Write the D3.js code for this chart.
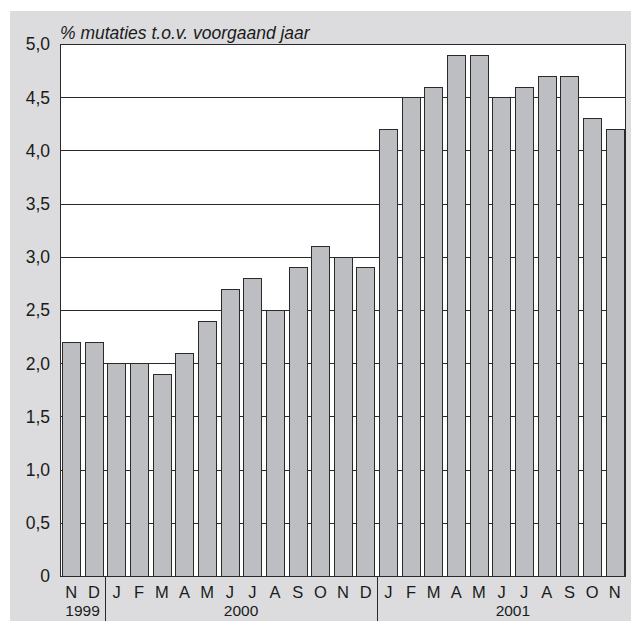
<!DOCTYPE html>
<html>
<head>
<meta charset="utf-8">
<script src="https://cdn.jsdelivr.net/npm/d3@7"></script>
<style>
  body { margin: 0; background: #fff; }
  text { font-family: "Liberation Sans", Arial, sans-serif; fill: #1a1a1a; }
</style>
</head>
<body>
<script>
"use strict";

// month letters, year of each bar, and % change vs previous year
const months = ["N","D","J","F","M","A","M","J","J","A","S","O","N","D","J","F","M","A","M","J","J","A","S","O","N"];
const years  = [1999,1999,2000,2000,2000,2000,2000,2000,2000,2000,2000,2000,2000,2000,2001,2001,2001,2001,2001,2001,2001,2001,2001,2001,2001];
const values = [2.2,2.2,2.0,2.0,1.9,2.1,2.4,2.7,2.8,2.5,2.9,3.1,3.0,2.9,4.2,4.5,4.6,4.9,4.9,4.5,4.6,4.7,4.7,4.3,4.2];
const yTicks = [0,0.5,1,1.5,2,2.5,3,3.5,4,4.5,5];
const yearList = [1999, 2000, 2001];

var width = 631,
    height = 621,
    plotLeft = 60, plotRight = 626, plotTop = 44, plotBottom = 576;

var svg = d3.select("body").append("svg")
    .attr("width", width)
    .attr("height", height);

// grey panel
svg.append("rect")
    .attr("x", 10).attr("y", 11)
    .attr("width", width - 10).attr("height", height - 11)
    .attr("fill", "#dcdcde");

var idx = d3.range(values.length);

var x = d3.scaleBand()
    .domain(idx)
    .range([plotLeft, plotRight])
    .paddingInner(0.19)
    .paddingOuter(0.09);

var y = d3.scaleLinear()
    .domain([0, 5])
    .range([plotBottom, plotTop]);

var fmt = function(d) { return d === 0 ? "0" : d3.format(".1f")(d).replace(".", ","); };

// plot area
svg.append("rect")
    .attr("x", plotLeft).attr("y", plotTop)
    .attr("width", plotRight - plotLeft).attr("height", plotBottom - plotTop)
    .attr("fill", "#fff");

// gridlines
svg.append("g")
  .selectAll("line")
    .data(yTicks.filter(function(d) { return d > 0 && d < 5; }))
  .enter().append("line")
    .attr("x1", plotLeft).attr("x2", plotRight)
    .attr("y1", function(d) { return Math.round(y(d)) + 0.5; })
    .attr("y2", function(d) { return Math.round(y(d)) + 0.5; })
    .attr("stroke", "#2a2a2a")
    .attr("stroke-width", 1);

// bars
svg.append("g")
  .selectAll("rect")
    .data(idx)
  .enter().append("rect")
    .attr("x", function(i) { return Math.round(x(i)) + 0.5; })
    .attr("y", function(i) { return Math.round(y(values[i])) + 0.5; })
    .attr("width", Math.round(x.bandwidth()))
    .attr("height", function(i) { return Math.round(y(0)) - Math.round(y(values[i])); })
    .attr("fill", "#bdbec2")
    .attr("stroke", "#2a2a2a")
    .attr("stroke-width", 1);

// plot border
svg.append("rect")
    .attr("x", plotLeft + 0.5).attr("y", plotTop + 0.5)
    .attr("width", plotRight - plotLeft - 1).attr("height", plotBottom - plotTop)
    .attr("fill", "none")
    .attr("stroke", "#2a2a2a")
    .attr("stroke-width", 1);

// y axis labels
svg.append("g")
  .selectAll("text")
    .data(yTicks)
  .enter().append("text")
    .attr("x", 50)
    .attr("y", function(d) { return y(d); })
    .attr("dy", "0.36em")
    .attr("text-anchor", "end")
    .style("font-size", "17.5px")
    .text(fmt);

// title
svg.append("text")
    .attr("x", plotLeft)
    .attr("y", 39)
    .style("font-size", "17.5px")
    .style("font-style", "italic")
    .text("% mutaties t.o.v. voorgaand jaar");

// month letters
svg.append("g")
  .selectAll("text")
    .data(idx)
  .enter().append("text")
    .attr("x", function(i) { return x(i) + x.bandwidth() / 2; })
    .attr("y", 598)
    .attr("text-anchor", "middle")
    .style("font-size", "16.5px")
    .text(function(i) { return months[i]; });

// year separators and labels
var step = x.step();
yearList.forEach(function(yr) {
  var first = years.indexOf(yr),
      last = years.lastIndexOf(yr),
      x0 = x(first) - x.paddingInner() * step / 2,
      cx;
  if (months[first] === "J") {
    cx = x0 + 6 * step;
  } else {
    cx = (x(first) + x(last) + x.bandwidth()) / 2;
  }
  if (first > 0) {
    svg.append("line")
      .attr("x1", Math.round(x0) + 0.5).attr("x2", Math.round(x0) + 0.5)
      .attr("y1", plotBottom).attr("y2", height)
      .attr("stroke", "#2a2a2a")
      .attr("stroke-width", 1);
  }
  svg.append("text")
    .attr("x", cx)
    .attr("y", 616)
    .attr("text-anchor", "middle")
    .style("font-size", "15.5px")
    .text(yr);
});
</script>
</body>
</html>
